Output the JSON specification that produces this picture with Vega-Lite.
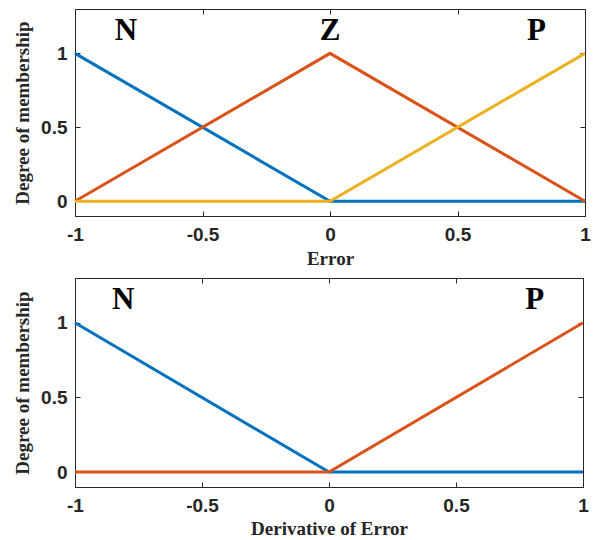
{
  "$schema": "https://vega.github.io/schema/vega-lite/v6.json",
  "padding": {"left": 13, "top": 8, "right": 4, "bottom": 0},
  "background": "white",
  "spacing": 8,
  "resolve": {"scale": {"color": "independent"}},
  "config": {
    "view": {"stroke": "#262626", "strokeWidth": 1},
    "axis": {
      "grid": false,
      "domainColor": "#262626",
      "tickColor": "#262626",
      "tickSize": -5,
      "labelFont": "Liberation Sans",
      "labelFontWeight": "bold",
      "labelFontSize": 19,
      "labelColor": "#262626",
      "labelExpr": "datum.value + ''",
      "titleFont": "Liberation Serif",
      "titleFontWeight": "bold",
      "titleFontSize": 19,
      "titleColor": "#262626"
    }
  },
  "datasets": {
    "err": [
      {"x": -1, "y": 1, "s": "N"}, {"x": 0, "y": 0, "s": "N"}, {"x": 1, "y": 0, "s": "N"},
      {"x": -1, "y": 0, "s": "Z"}, {"x": 0, "y": 1, "s": "Z"}, {"x": 1, "y": 0, "s": "Z"},
      {"x": -1, "y": 0, "s": "P"}, {"x": 0, "y": 0, "s": "P"}, {"x": 1, "y": 1, "s": "P"}
    ],
    "errLab": [
      {"x": -0.8, "y": 1.15, "t": "N"}, {"x": 0, "y": 1.15, "t": "Z"}, {"x": 0.81, "y": 1.15, "t": "P"}
    ],
    "der": [
      {"x": -1, "y": 1, "s": "N"}, {"x": 0, "y": 0, "s": "N"}, {"x": 1, "y": 0, "s": "N"},
      {"x": -1, "y": 0, "s": "P"}, {"x": 0, "y": 0, "s": "P"}, {"x": 1, "y": 1, "s": "P"}
    ],
    "derLab": [
      {"x": -0.81, "y": 1.15, "t": "N"}, {"x": 0.81, "y": 1.15, "t": "P"}
    ]
  },
  "vconcat": [
    {
      "width": 510,
      "height": 207,
      "resolve": {"axis": {"x": "independent", "y": "independent"}},
      "layer": [
        {
          "data": {"name": "err"},
          "mark": {"type": "line", "strokeWidth": 3},
          "encoding": {
            "x": {"field": "x", "type": "quantitative", "scale": {"domain": [-1, 1], "nice": false},
                  "axis": {"values": [-1, -0.5, 0, 0.5, 1], "title": "Error", "labelPadding": 14, "titlePadding": 5, "labelFlush": false}},
            "y": {"field": "y", "type": "quantitative", "scale": {"domain": [-0.1, 1.3], "nice": false, "zero": false},
                  "axis": {"values": [0, 0.5, 1], "title": "Degree of membership", "labelPadding": 13, "titlePadding": 8}},
            "color": {"field": "s", "type": "nominal", "sort": ["N", "Z", "P"],
                      "scale": {"domain": ["N", "Z", "P"], "range": ["#0072BD", "#D95319", "#EDB120"]}, "legend": null}
          }
        },
        {
          "data": {"name": "errLab"},
          "mark": {"type": "text", "font": "Liberation Serif", "fontWeight": "bold", "fontSize": 31, "baseline": "middle", "align": "center", "color": "#000"},
          "encoding": {
            "x": {"field": "x", "type": "quantitative", "axis": {"orient": "top", "values": [-1, -0.5, 0, 0.5, 1], "labels": false, "title": null, "domain": false}},
            "y": {"field": "y", "type": "quantitative", "axis": {"orient": "right", "values": [0, 0.5, 1], "labels": false, "title": null, "domain": false}},
            "text": {"field": "t"}
          }
        }
      ]
    },
    {
      "width": 508,
      "height": 209,
      "resolve": {"axis": {"x": "independent", "y": "independent"}},
      "layer": [
        {
          "data": {"name": "der"},
          "mark": {"type": "line", "strokeWidth": 3},
          "encoding": {
            "x": {"field": "x", "type": "quantitative", "scale": {"domain": [-1, 1], "nice": false},
                  "axis": {"values": [-1, -0.5, 0, 0.5, 1], "title": "Derivative of Error", "labelPadding": 14, "titlePadding": 4, "labelFlush": false}},
            "y": {"field": "y", "type": "quantitative", "scale": {"domain": [-0.1, 1.3], "nice": false, "zero": false},
                  "axis": {"values": [0, 0.5, 1], "title": "Degree of membership", "labelPadding": 13, "titlePadding": 8}},
            "color": {"field": "s", "type": "nominal", "sort": ["N", "P"],
                      "scale": {"domain": ["N", "P"], "range": ["#0072BD", "#D95319"]}, "legend": null}
          }
        },
        {
          "data": {"name": "derLab"},
          "mark": {"type": "text", "font": "Liberation Serif", "fontWeight": "bold", "fontSize": 31, "baseline": "middle", "align": "center", "color": "#000"},
          "encoding": {
            "x": {"field": "x", "type": "quantitative", "axis": {"orient": "top", "values": [-1, -0.5, 0, 0.5, 1], "labels": false, "title": null, "domain": false}},
            "y": {"field": "y", "type": "quantitative", "axis": {"orient": "right", "values": [0, 0.5, 1], "labels": false, "title": null, "domain": false}},
            "text": {"field": "t"}
          }
        }
      ]
    }
  ]
}
